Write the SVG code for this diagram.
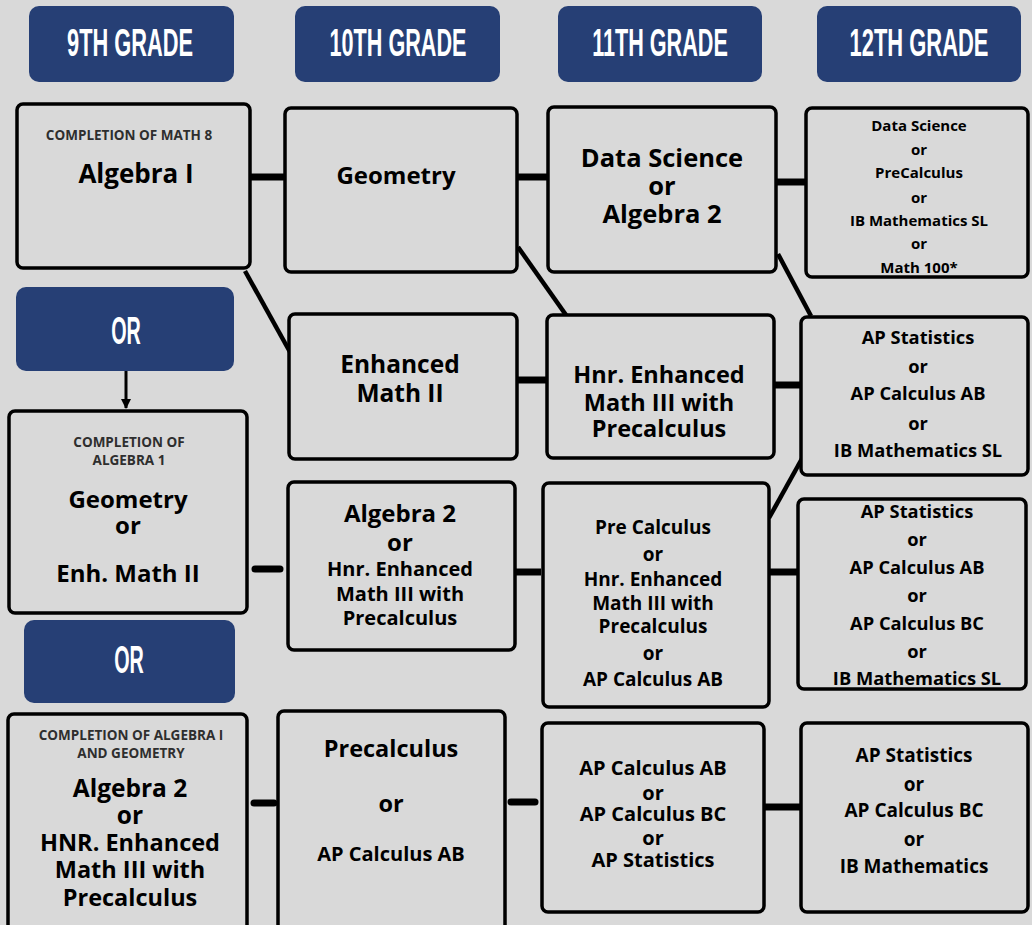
<svg xmlns="http://www.w3.org/2000/svg" width="1032" height="925" viewBox="0 0 1032 925">
<style>
.bg{fill:#d9d9d9}
.hdr{fill:#263f75}
.ht{font-family:"Liberation Sans",Arial,sans-serif;font-weight:700;fill:#fff;font-size:38px;text-anchor:middle}
.box{fill:#d9d9d9;stroke:#000;stroke-width:3.5}
.t{font-family:"Open Sans",Lato,sans-serif;font-weight:700;fill:#000;text-anchor:middle}
.s{font-family:"Open Sans",Lato,sans-serif;font-weight:700;fill:#2e2e2e;text-anchor:middle;font-size:13.5px}
.c{stroke:#000;stroke-width:7;fill:none}
.cr{stroke:#000;stroke-width:7;fill:none;stroke-linecap:round}
.d{stroke:#000;stroke-width:4.5;fill:none}
</style>
<defs>
<marker id="ah" markerWidth="10" markerHeight="10" refX="9" refY="5" orient="auto" markerUnits="userSpaceOnUse" viewBox="0 0 10 10">
<path d="M0,0 L10,5 L0,10 z" fill="#000"/>
</marker>
</defs>
<rect class="bg" x="0" y="0" width="1032" height="925"/>

<g id="connectors">
<line class="c" x1="250" y1="177" x2="285" y2="177"/>
<line class="c" x1="517" y1="177" x2="548" y2="177"/>
<line class="c" x1="776" y1="182" x2="806" y2="182"/>
<line class="d" x1="245" y1="271" x2="290" y2="352"/>
<line class="d" x1="518" y1="247" x2="566" y2="315"/>
<line class="d" x1="778" y1="254" x2="811" y2="316"/>
<line class="c" x1="517" y1="380" x2="547" y2="380"/>
<line class="c" x1="774" y1="385" x2="801" y2="385"/>
<line class="d" x1="769" y1="518" x2="804" y2="455"/>
<line x1="126" y1="371" x2="126" y2="408" stroke="#000" stroke-width="3" marker-end="url(#ah)"/>
<line class="cr" x1="255" y1="569" x2="280" y2="569"/>
<line class="c" x1="515" y1="572" x2="541" y2="572"/>
<line class="c" x1="769" y1="572" x2="798" y2="572"/>
<line class="cr" x1="254" y1="803" x2="274" y2="803"/>
<line class="cr" x1="511" y1="802" x2="535" y2="802"/>
<line class="c" x1="765" y1="807" x2="801" y2="807"/>
</g>

<g id="h9"><rect class="hdr" x="29" y="6" width="205" height="76" rx="10"/><text class="ht" transform="translate(130,56) scale(0.574,1)">9TH GRADE</text></g>
<g id="h10"><rect class="hdr" x="295" y="6" width="205" height="76" rx="10"/><text class="ht" transform="translate(398,56) scale(0.569,1)">10TH GRADE</text></g>
<g id="h11"><rect class="hdr" x="558" y="6" width="204" height="76" rx="10"/><text class="ht" transform="translate(660,56) scale(0.569,1)">11TH GRADE</text></g>
<g id="h12"><rect class="hdr" x="817" y="6" width="204" height="76" rx="10"/><text class="ht" transform="translate(919,56) scale(0.577,1)">12TH GRADE</text></g>

<g id="or1"><rect class="hdr" x="16" y="287" width="218" height="84" rx="10"/><text class="ht" transform="translate(126,344) scale(0.52,1)">OR</text></g>
<g id="or2"><rect class="hdr" x="24" y="620" width="211" height="83" rx="10"/><text class="ht" transform="translate(129,673) scale(0.52,1)">OR</text></g>

<g id="alg1"><rect class="box" x="17" y="104" width="233" height="164" rx="6"/>
<text class="s" x="129" y="140.4" font-size="13.8">COMPLETION OF MATH 8</text>
<text class="t" x="136" y="183.1" font-size="26">Algebra I</text></g>

<g id="geo"><rect class="box" x="285" y="108" width="232" height="164" rx="6"/>
<text class="t" x="396" y="184.3" font-size="24">Geometry</text></g>

<g id="ds11"><rect class="box" x="548" y="107" width="228" height="165" rx="6"/>
<text class="t" font-size="25.5"><tspan x="662" y="166.9">Data Science</tspan><tspan x="662" y="194.9">or</tspan><tspan x="662" y="222.9">Algebra 2</tspan></text></g>

<g id="ds12"><rect class="box" x="806" y="108" width="222" height="169" rx="6"/>
<text class="t" font-size="15"><tspan x="919" y="130.8">Data Science</tspan><tspan x="919" y="154.8">or</tspan><tspan x="919" y="177.8">PreCalculus</tspan><tspan x="919" y="202.8">or</tspan><tspan x="919" y="225.8">IB Mathematics SL</tspan><tspan x="919" y="248.8">or</tspan><tspan x="919" y="272.8">Math 100*</tspan></text></g>

<g id="em2"><rect class="box" x="289" y="314" width="228" height="145" rx="6"/>
<text class="t" font-size="24.5"><tspan x="400" y="372.5">Enhanced</tspan><tspan x="400" y="401.5">Math II</tspan></text></g>

<g id="hem3"><rect class="box" x="547" y="315" width="227" height="143" rx="6"/>
<text class="t" font-size="23.5"><tspan x="659" y="383.1">Hnr. Enhanced</tspan><tspan x="659" y="411.1">Math III with</tspan><tspan x="659" y="437.1">Precalculus</tspan></text></g>

<g id="ap2"><rect class="box" x="801" y="317" width="227" height="158" rx="6"/>
<text class="t" font-size="18.3"><tspan x="918" y="344.1">AP Statistics</tspan><tspan x="918" y="373.1">or</tspan><tspan x="918" y="400.1">AP Calculus AB</tspan><tspan x="918" y="430.1">or</tspan><tspan x="918" y="457.1">IB Mathematics SL</tspan></text></g>

<g id="calg1"><rect class="box" x="9" y="411" width="238" height="202" rx="6"/>
<text class="s"><tspan x="129" y="447.2">COMPLETION OF</tspan><tspan x="129" y="465.2">ALGEBRA 1</tspan></text>
<text class="t" font-size="24"><tspan x="128" y="508.3">Geometry</tspan><tspan x="128" y="534.3">or</tspan><tspan x="128" y="582.3">Enh. Math II</tspan></text></g>

<g id="alg2"><rect class="box" x="288" y="482" width="227" height="168" rx="6"/>
<text class="t" font-size="24"><tspan x="400" y="522.3">Algebra 2</tspan><tspan x="400" y="551.3">or</tspan><tspan x="400" y="575.8" font-size="20">Hnr. Enhanced</tspan><tspan x="400" y="600.8" font-size="20">Math III with</tspan><tspan x="400" y="624.8" font-size="20">Precalculus</tspan></text></g>

<g id="pc11"><rect class="box" x="543" y="483" width="226" height="224" rx="6"/>
<text class="t" font-size="19"><tspan x="653" y="534.4">Pre Calculus</tspan><tspan x="653" y="561.4">or</tspan><tspan x="653" y="586.4">Hnr. Enhanced</tspan><tspan x="653" y="610.4">Math III with</tspan><tspan x="653" y="633.4">Precalculus</tspan><tspan x="653" y="660.4">or</tspan><tspan x="653" y="686.4">AP Calculus AB</tspan></text></g>

<g id="ap3"><rect class="box" x="798" y="499" width="228" height="190" rx="6"/>
<text class="t" font-size="18.3"><tspan x="917" y="518.1">AP Statistics</tspan><tspan x="917" y="546.1">or</tspan><tspan x="917" y="574.1">AP Calculus AB</tspan><tspan x="917" y="602.1">or</tspan><tspan x="917" y="630.1">AP Calculus BC</tspan><tspan x="917" y="658.1">or</tspan><tspan x="917" y="685.1">IB Mathematics SL</tspan></text></g>

<g id="cag"><rect class="box" x="8" y="714" width="239" height="220" rx="6"/>
<text class="s"><tspan x="131" y="740.2">COMPLETION OF ALGEBRA I</tspan><tspan x="131" y="758.2">AND GEOMETRY</tspan></text>
<text class="t" font-size="24.5"><tspan x="130" y="796.5">Algebra 2</tspan><tspan x="130" y="823.5">or</tspan><tspan x="130" y="851.1" font-size="23.5">HNR. Enhanced</tspan><tspan x="130" y="878.1" font-size="23.5">Math III with</tspan><tspan x="130" y="906.1" font-size="23.5">Precalculus</tspan></text></g>

<g id="pc10"><rect class="box" x="278" y="711" width="227" height="223" rx="6"/>
<text class="t" font-size="23.5"><tspan x="391" y="757.1">Precalculus</tspan><tspan x="391" y="812.1">or</tspan><tspan x="391" y="860.8" font-size="20">AP Calculus AB</tspan></text></g>

<g id="ap11b"><rect class="box" x="542" y="723" width="222" height="189" rx="6"/>
<text class="t" font-size="20"><tspan x="653" y="774.8">AP Calculus AB</tspan><tspan x="653" y="799.8">or</tspan><tspan x="653" y="820.8">AP Calculus BC</tspan><tspan x="653" y="844.8">or</tspan><tspan x="653" y="866.8">AP Statistics</tspan></text></g>

<g id="ap12b"><rect class="box" x="801" y="723" width="227" height="189" rx="6"/>
<text class="t" font-size="19"><tspan x="914" y="762.4">AP Statistics</tspan><tspan x="914" y="791.4">or</tspan><tspan x="914" y="817.4">AP Calculus BC</tspan><tspan x="914" y="846.4">or</tspan><tspan x="914" y="873.4">IB Mathematics</tspan></text></g>
</svg>
